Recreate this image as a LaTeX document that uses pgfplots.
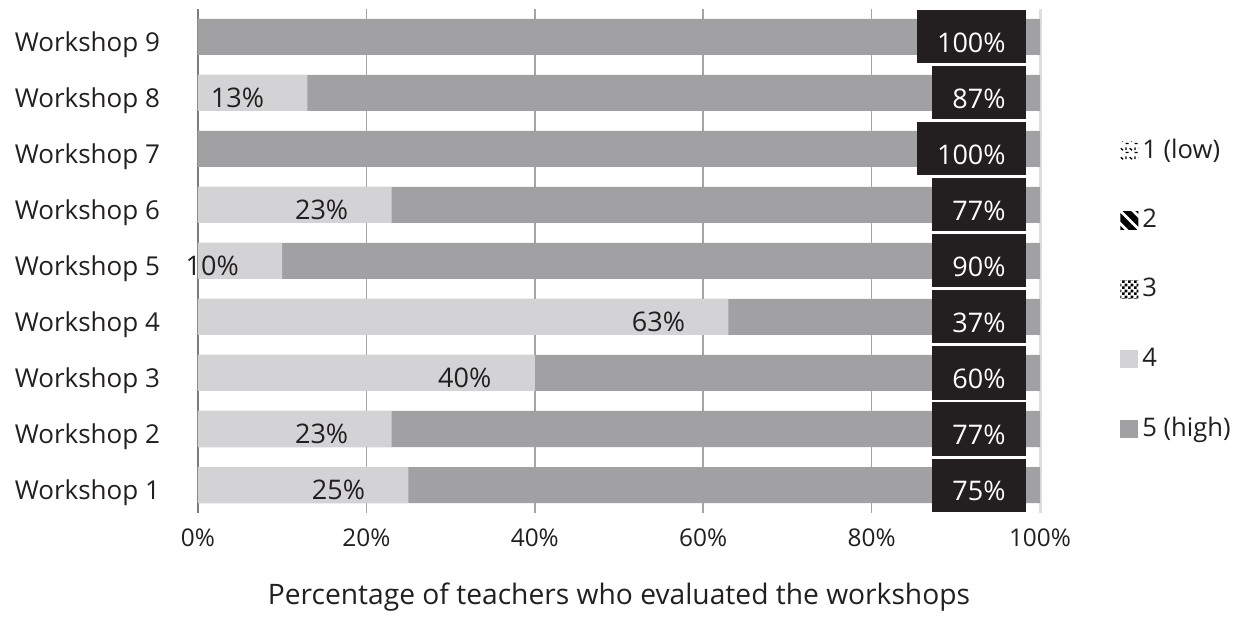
\documentclass[border=0pt]{standalone}
\usepackage{fontspec}
\setmainfont{Open Sans}
\usepackage{pgfplots}
\usepackage{pgfplotstable}
\pgfplotsset{compat=1.18}
\usetikzlibrary{patterns,patterns.meta}

\definecolor{cfour}{RGB}{211,211,213}
\definecolor{cfive}{RGB}{161,161,164}
\definecolor{boxc}{RGB}{35,31,32}
\definecolor{txtc}{RGB}{35,31,32}
\definecolor{gridc}{RGB}{165,165,165}
\definecolor{axisc}{RGB}{125,125,125}
\definecolor{rightc}{RGB}{222,222,226}

\pgfdeclarepatternformonly{finechecker}{\pgfqpoint{0pt}{0pt}}{\pgfqpoint{3pt}{3pt}}{\pgfqpoint{3pt}{3pt}}{%
  \pgfpathrectangle{\pgfqpoint{0pt}{0pt}}{\pgfqpoint{1.5pt}{1.5pt}}%
  \pgfpathrectangle{\pgfqpoint{1.5pt}{1.5pt}}{\pgfqpoint{1.5pt}{1.5pt}}%
  \pgfusepath{fill}}
\pgfdeclarepatternformonly{lowdash}{\pgfqpoint{0pt}{0pt}}{\pgfqpoint{4.5pt}{4.5pt}}{\pgfqpoint{4.5pt}{4.5pt}}{%
  \pgfsetlinewidth{0.7pt}%
  \pgfpathmoveto{\pgfqpoint{0.3pt}{4.0pt}}\pgfpathlineto{\pgfqpoint{2.0pt}{4.0pt}}%
  \pgfpathmoveto{\pgfqpoint{0.5pt}{0.5pt}}\pgfpathlineto{\pgfqpoint{0.5pt}{2.0pt}}%
  \pgfpathmoveto{\pgfqpoint{2.5pt}{1.5pt}}\pgfpathlineto{\pgfqpoint{3.8pt}{0.4pt}}%
  \pgfusepath{stroke}}

\pgfplotstableread{
y v4 v5 l4 l5
1 25 75 25\% 75\%
2 23 77 23\% 77\%
3 40 60 40\% 60\%
4 63 37 63\% 37\%
5 10 90 10\% 90\%
6 23 77 23\% 77\%
7 0 100 {} 100\%
8 13 87 13\% 87\%
9 0 100 {} 100\%
}\datatable

\begin{document}
\fontsize{13pt}{15pt}\selectfont\color{txtc}%
\begin{tikzpicture}
\begin{axis}[
  scale only axis, width=421pt, height=252pt,
  xmin=0, xmax=100, ymin=0.5, ymax=9.5,
  xbar, bar width=18pt, bar shift=0pt,
  separate axis lines,
  axis x line*=bottom, axis y line*=left,
  x axis line style={draw=none},
  y axis line style={draw=axisc, line width=1pt},
  xtick={0,20,40,60,80}, xticklabels={0\%,20\%,40\%,60\%,80\%},
  extra x ticks={100}, extra x tick labels={100\%},
  extra x tick style={grid style={draw=rightc, line width=1.5pt}},
  xmajorgrids, grid style={draw=gridc, line width=0.75pt},
  major tick length=0pt,
  xticklabel style={font=\fontsize{12.2pt}{14pt}\selectfont, yshift=-3.5pt},
  ytick={1,...,9},
  yticklabels={Workshop 1,Workshop 2,Workshop 3,Workshop 4,Workshop 5,Workshop 6,Workshop 7,Workshop 8,Workshop 9},
  yticklabel style={xshift=-14.5pt, yshift=-4pt},
  xlabel={Percentage of teachers who evaluated the workshops},
  xlabel style={at={(axis description cs:0.5,-0.1825)}, anchor=base, font=\fontsize{14.1pt}{16pt}\selectfont},
  legend image code/.code={\draw[#1,/tikz/.cd,draw=none] (0pt,-4.5pt) rectangle (9pt,4.5pt);},
  legend style={at={(1.095,0.4435)}, anchor=west, draw=none, fill=none,
    font=\fontsize{12.8pt}{15pt}\selectfont, row sep=19.5pt, inner sep=0pt,
    cells={anchor=west, inner xsep=4.5pt}},
]
\addlegendimage{pattern=lowdash}
\addlegendentry{1 (low)}
\addlegendimage{pattern={Lines[angle=-45,distance=4.5pt,line width=3pt]}}
\addlegendentry{2}
\addlegendimage{pattern=finechecker}
\addlegendentry{3}
\addlegendimage{fill=cfour}
\addlegendentry{4}
\addlegendimage{fill=cfive}
\addlegendentry{5 (high)}
% category 5 (high): bar spans from 0 to v4+v5 and is overlaid by category 4
\addplot[forget plot, bar shift=0pt, fill=cfive, draw=none, nodes near coords, point meta=explicit symbolic,
  every node near coord/.append style={anchor=east, xshift=-7pt, fill=boxc, text=white,
    font=\fontsize{13.5pt}{16pt}\selectfont,
    minimum height=26.5pt, inner xsep=10pt, text height=15.5pt, text depth=0pt}]
  table[x expr=\thisrow{v4}+\thisrow{v5}, y=y, meta=l5] {\datatable};
% category 4
\addplot[forget plot, bar shift=0pt, fill=cfour, draw=none, nodes near coords, point meta=explicit symbolic,
  every node near coord/.append style={anchor=center, xshift=-35pt, yshift=-2.5pt, text=txtc,
    font=\fontsize{13.5pt}{16pt}\selectfont}]
  table[x=v4, y=y, meta=l4] {\datatable};
\end{axis}
\pgfresetboundingbox
\path ([shift={(-99pt,-62pt)}]current axis.south west) rectangle ([shift={(99pt,4.5pt)}]current axis.north east);
\end{tikzpicture}
\end{document}
